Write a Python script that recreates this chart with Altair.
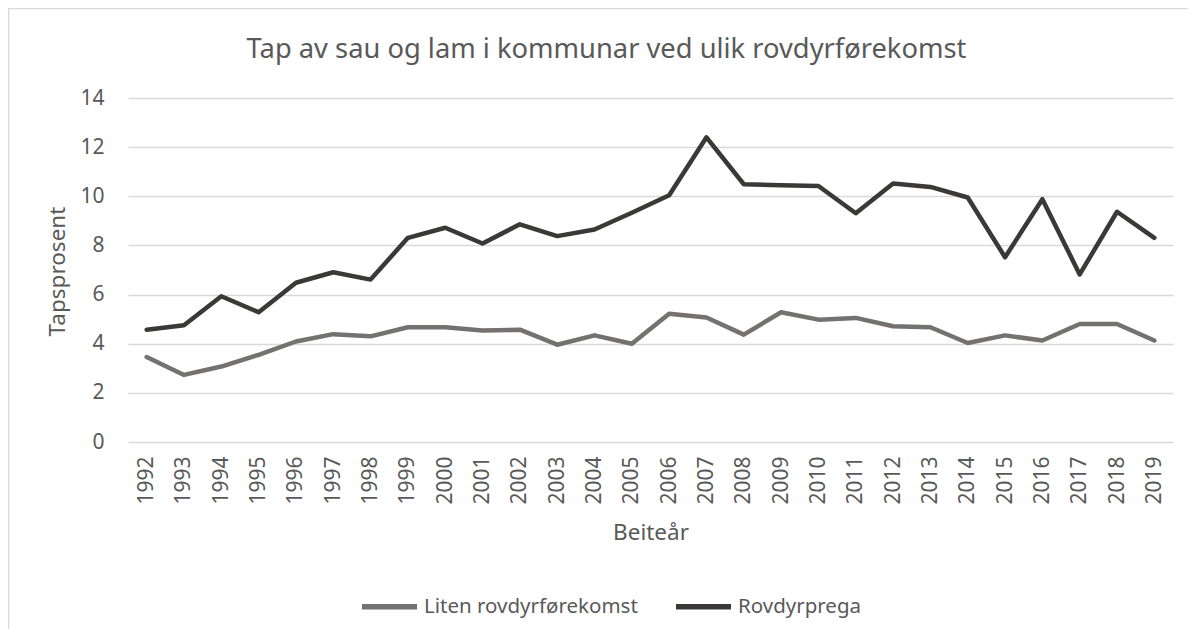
import altair as alt
import pandas as pd

years = list(range(1992, 2020))
liten = [3.46, 2.73, 3.07, 3.55, 4.09, 4.39, 4.30, 4.67, 4.67, 4.54, 4.57,
         3.96, 4.34, 4.00, 5.22, 5.07, 4.37, 5.28, 4.98, 5.05, 4.71, 4.67,
         4.03, 4.34, 4.13, 4.80, 4.80, 4.13]
prega = [4.57, 4.75, 5.93, 5.28, 6.48, 6.91, 6.61, 8.31, 8.72, 8.08, 8.86,
         8.38, 8.65, 9.33, 10.04, 12.40, 10.49, 10.45, 10.42, 9.31, 10.52, 10.38,
         9.95, 7.52, 9.88, 6.82, 9.37, 8.31]
series_names = ["Liten rovdyrførekomst", "Rovdyrprega"]
series_colors = ["#767171", "#3B3838"]

df = pd.DataFrame({
    "year": [str(y) for y in years] * 2,
    "value": liten + prega,
    "series": [series_names[0]] * len(years) + [series_names[1]] * len(years),
})

FONT = "Noto Sans"
W, H = 1045, 344

lines = alt.Chart(df).mark_line(strokeWidth=4.5, strokeCap="round", strokeJoin="round").encode(
    x=alt.X("year:O", scale=alt.Scale(type="point", padding=0.5),
            axis=alt.Axis(title="Beiteår", labelAngle=270, labelPadding=14, ticks=False,
                          domain=False, labelFontSize=21, titleFontSize=22.5,
                          titleFontWeight="normal", titleColor="#595959",
                          labelColor="#595959", titleY=90, titleBaseline="middle")),
    y=alt.Y("value:Q", scale=alt.Scale(domain=[0, 14]),
            axis=alt.Axis(title="Tapsprosent", values=[0, 2, 4, 6, 8, 10, 12, 14],
                          ticks=False, domain=False, labelPadding=24,
                          labelFontSize=21, titleFontSize=22.5, titleFontWeight="normal",
                          titleColor="#595959", labelColor="#595959",
                          gridColor="#D9D9D9", gridWidth=1.3,
                          titleX=-71, titleY=H / 2 + 1, titleAngle=270,
                          titleBaseline="middle", titleAlign="center")),
    color=alt.Color("series:N", scale=alt.Scale(domain=series_names, range=series_colors),
                    legend=alt.Legend(title=None, orient="none", direction="horizontal",
                                      legendX=231, legendY=478,
                                      symbolType="stroke", symbolSize=3025,
                                      symbolStrokeWidth=5.5, labelFontSize=20.5,
                                      labelColor="#595959", labelOffset=4,
                                      columnPadding=27, labelLimit=400)),
)

border = alt.Chart(pd.DataFrame({"a": [0]})).mark_rect(
    filled=False, stroke="#D9D9D9", strokeWidth=1.5
).encode(
    x=alt.value(-119.5), x2=alt.value(W + 200),
    y=alt.value(-89.5), y2=alt.value(H + 300),
)

chart = alt.layer(border, lines).properties(
    width=W, height=H,
    title=alt.TitleParams("Tap av sau og lam i kommunar ved ulik rovdyrførekomst",
                          fontSize=27.3, font=FONT, fontWeight="normal", color="#595959",
                          anchor="middle", frame="group", dx=-44, dy=56, offset=0),
    autosize=alt.AutoSizeParams(type="none"),
    padding={"left": 120, "top": 90, "right": 15, "bottom": 187},
).configure(font=FONT).configure_view(stroke=None)

chart.save("out.html", embed_options={"renderer": "svg", "actions": False})
